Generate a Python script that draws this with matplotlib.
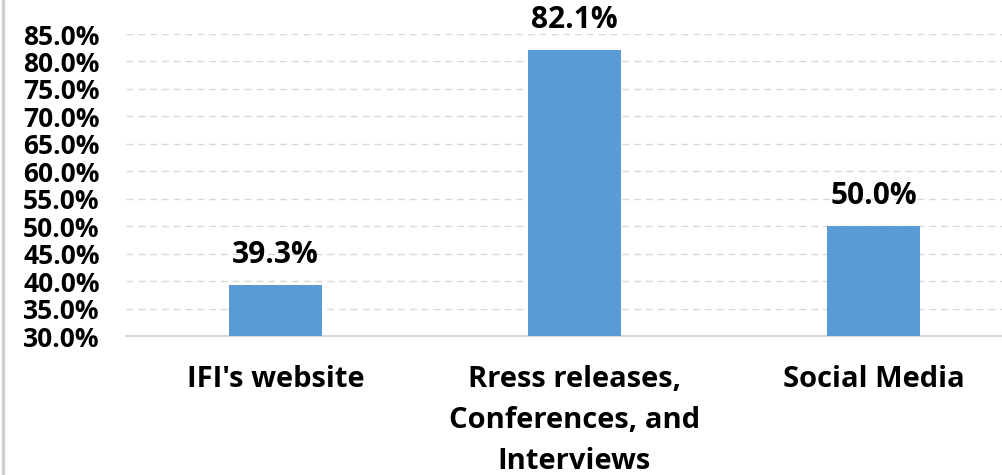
import matplotlib
matplotlib.use("Agg")
import matplotlib.pyplot as plt
from matplotlib.lines import Line2D
from matplotlib.ticker import FuncFormatter, MultipleLocator

# Share of respondents by information channel
categories = ["IFI's website", "Rress releases,\nConferences, and\nInterviews", "Social Media"]
values = [39.3, 82.1, 50.0]

BAR_COLOR = "#5B9BD5"
GRID_COLOR = "#D9D9D9"
FONT = ["Open Sans", "DejaVu Sans"]

plt.rcParams["font.family"] = FONT
plt.rcParams["font.weight"] = "bold"

fig = plt.figure(figsize=(10.02, 4.75), dpi=100)
ax = fig.add_axes([0.1257, 0.2926, 0.8743, 0.6358])

x = list(range(len(categories)))
bars = ax.bar(x, values, width=0.31, color=BAR_COLOR, zorder=3)

ax.set_ylim(30, 85)
ax.set_xlim(-0.5, 2.43)
ax.yaxis.set_major_locator(MultipleLocator(5))
ax.yaxis.set_major_formatter(FuncFormatter(lambda v, _: f"{v:.1f}%"))

# bars start from the bottom of the visible range
for b in bars:
    b.set_y(30)
    b.set_height(b.get_height() - 30)

ax.grid(axis="y", color=GRID_COLOR, linestyle=(0, (5, 3.5)), linewidth=1.0, zorder=0)
ax.set_axisbelow(True)

for side in ("top", "right", "left"):
    ax.spines[side].set_visible(False)
ax.spines["bottom"].set_color(GRID_COLOR)
ax.spines["bottom"].set_linewidth(1.5)

ax.tick_params(axis="y", length=0, pad=19, labelsize=19, labelcolor="#000000")
ax.tick_params(axis="x", length=0, pad=21, labelsize=21, labelcolor="#000000")
ax.set_xticks(x)
ax.set_xticklabels(categories, linespacing=1.55)
for lbl in ax.get_yticklabels() + ax.get_xticklabels():
    lbl.set_fontweight("bold")

for xi, v in zip(x, values):
    ax.annotate(f"{v:.1f}%", xy=(xi, v), xytext=(0, 16), textcoords="offset points",
                ha="center", va="baseline", fontsize=21.5, fontweight="bold",
                color="#000000", annotation_clip=False)

# thin frame line along the left edge of the figure
fig.add_artist(Line2D([0.0025, 0.0025], [0, 1], transform=fig.transFigure,
                      color="#D0D0D0", linewidth=2.5))

fig.savefig("out.png", dpi=100, facecolor="white")
